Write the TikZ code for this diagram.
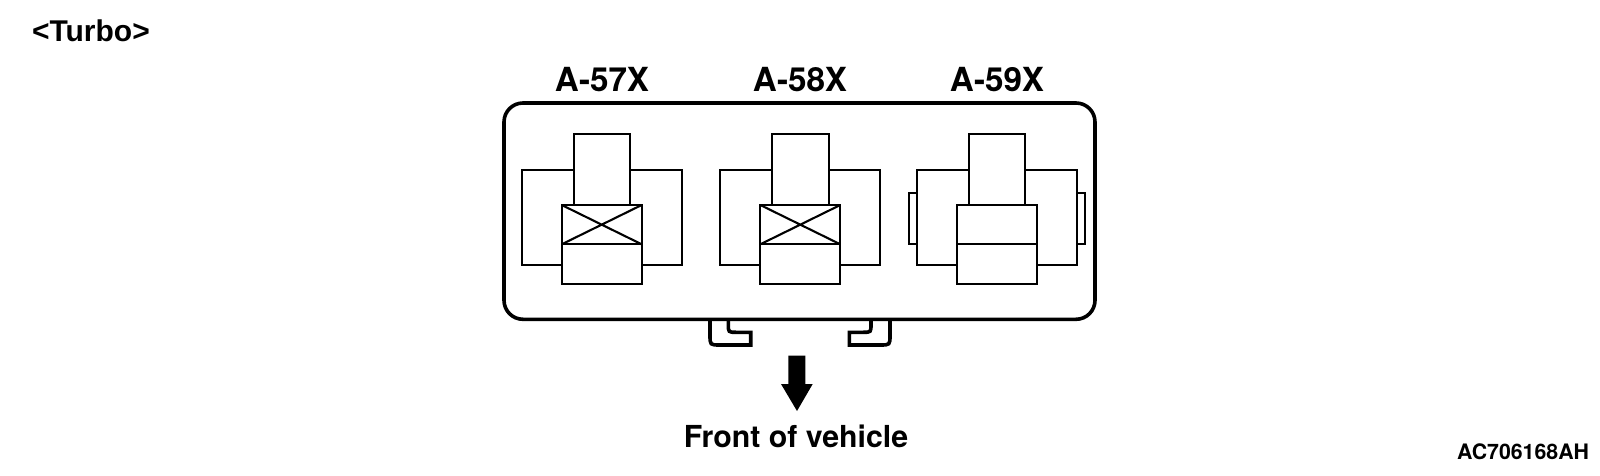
\documentclass[tikz,border=0pt]{standalone}
\usepackage{fontspec}
\setmainfont{TeX Gyre Heros}
\newfontfamily\arialbold{Liberation Sans}
\tikzset{
  thin part/.style={draw=black,line width=2.1pt,fill=white,line join=miter},
  shell/.style={draw=black,line width=3.6pt,fill=white},
  clip part/.style={draw=black,line width=3.6pt,line join=miter},
  lbl/.style={inner sep=0pt,outer sep=0pt,font=\bfseries,text=black},
  pics/connector/.style={code={
    \draw[thin part] (0,0) rectangle (160,95);
    \draw[thin part] (52,-36) rectangle (108.4,35);
    \draw[thin part] (40,35) rectangle (120,114);
    \draw[thin part,fill=none] (40,74.3) -- (120,74.3);
  }},
  pics/crossed/.style={code={
    \draw[thin part,fill=none] (40,35) -- (120,74.3) (120,35) -- (40,74.3);
  }}
}
\begin{document}
\begin{tikzpicture}[x=1pt,y=-1pt]
\useasboundingbox (0,0) rectangle (1600,476);
\fill[white] (0,0) rectangle (1600,476);
% retaining clips
\draw[clip part] (728.3,319) -- (728.3,324) .. controls (728.3,332.3) .. (736.3,332.3) -- (750.7,332.3) -- (750.7,345) -- (720,345) .. controls (710,345) .. (710,335) -- (710,319);
\draw[clip part] (871,319) -- (871,324) .. controls (871,332.3) .. (863,332.3) -- (849.3,332.3) -- (849.3,345) -- (880,345) .. controls (890,345) .. (890,335) -- (890,319);
% housing
\draw[shell,rounded corners=19pt] (504,103) rectangle (1095,319.3);
% side tabs of third connector
\draw[thin part] (908.7,192.7) rectangle (925,244);
\draw[thin part] (1070,192.7) rectangle (1085,244);
% connectors
\pic at (521.7,170) {connector};
\pic at (521.7,170) {crossed};
\pic at (720.3,170) {connector};
\pic at (720.3,170) {crossed};
\pic at (917,170) {connector};
% direction arrow
\fill[black] (788.3,355.7) -- (805.3,355.7) -- (805.3,384) -- (812.7,384) -- (797,411) -- (781,384) -- (788.3,384) -- cycle;
% labels
\node[lbl,font=\arialbold\bfseries\fontsize{30}{32}\selectfont,anchor=base west] (turbo) at (32,42) {<Turbo>};
\node[lbl,font=\bfseries\fontsize{33.2}{36}\selectfont,anchor=base] (a57) at (602,92) {A-57X};
\node[lbl,font=\bfseries\fontsize{33.2}{36}\selectfont,anchor=base] (a58) at (800,92) {A-58X};
\node[lbl,font=\bfseries\fontsize{33.2}{36}\selectfont,anchor=base] (a59) at (997,92) {A-59X};
\node[lbl,font=\bfseries\fontsize{30.3}{32}\selectfont,anchor=base] (front) at (796,447) {Front of vehicle};
\node[lbl,font=\bfseries\fontsize{21.3}{24}\selectfont,anchor=base east] (code) at (1589,459) {AC706168AH};
\end{tikzpicture}
\end{document}
